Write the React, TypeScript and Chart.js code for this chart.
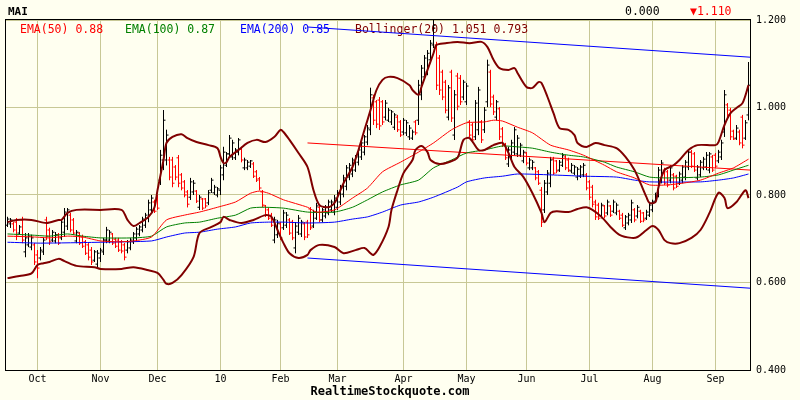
import React, { useEffect, useRef } from 'react';
import { Chart, registerables } from 'chart.js';

Chart.register(...registerables);

// ---- OHLC data (one entry per trading day) ----
const highs = [
  0.750,0.747,0.738,0.747,0.731,0.750,0.713,0.713,0.709,0.690,
  0.674,0.681,0.702,0.750,0.725,0.720,0.715,0.713,0.743,0.770,
  0.770,0.759,0.747,0.720,0.715,0.709,0.697,0.690,0.681,0.674,
  0.674,0.679,0.702,0.727,0.720,0.713,0.702,0.702,0.697,0.690,
  0.697,0.702,0.715,0.727,0.731,0.750,0.759,0.789,0.800,0.789,
  0.800,0.903,0.994,0.949,0.887,0.887,0.868,0.891,0.850,0.834,
  0.811,0.839,0.834,0.811,0.800,0.793,0.793,0.811,0.839,0.823,
  0.818,0.868,0.910,0.898,0.937,0.926,0.907,0.930,0.910,0.885,
  0.880,0.880,0.875,0.857,0.841,0.811,0.777,0.770,0.759,0.750,
  0.743,0.738,0.766,0.761,0.747,0.743,0.738,0.754,0.743,0.738,
  0.743,0.772,0.766,0.782,0.777,0.770,0.777,0.789,0.789,0.800,
  0.811,0.823,0.846,0.868,0.873,0.885,0.891,0.907,0.926,0.937,
  0.960,1.045,1.029,1.017,1.024,1.017,1.017,0.999,0.994,0.987,
  0.983,0.971,0.976,0.971,0.960,0.949,0.971,1.063,1.097,1.120,
  1.131,1.154,1.200,1.150,1.120,1.086,1.063,1.051,1.086,1.040,
  1.079,1.074,1.063,1.056,0.971,0.965,1.017,1.047,0.971,1.001,
  1.109,1.086,1.029,1.017,1.001,0.955,0.919,0.910,0.926,0.955,
  0.937,0.919,0.903,0.898,0.885,0.880,0.864,0.857,0.818,0.834,
  0.857,0.887,0.887,0.880,0.880,0.896,0.891,0.885,0.873,0.868,
  0.864,0.868,0.873,0.850,0.834,0.823,0.789,0.782,0.782,0.777,
  0.789,0.777,0.789,0.782,0.766,0.759,0.754,0.759,0.789,0.770,
  0.777,0.766,0.761,0.766,0.782,0.789,0.805,0.864,0.880,0.862,
  0.857,0.868,0.850,0.846,0.853,0.868,0.880,0.903,0.903,0.898,
  0.868,0.880,0.887,0.898,0.898,0.891,0.896,0.903,0.926,1.040,
  1.010,0.999,0.949,0.960,0.949,0.983,0.971,1.104,
];
const lows = [
  0.727,0.725,0.715,0.697,0.709,0.690,0.658,0.681,0.674,0.640,
  0.610,0.651,0.663,0.697,0.686,0.693,0.690,0.686,0.697,0.704,
  0.720,0.715,0.709,0.690,0.686,0.679,0.663,0.651,0.640,0.647,
  0.635,0.647,0.663,0.690,0.690,0.686,0.679,0.670,0.667,0.651,
  0.667,0.674,0.688,0.697,0.706,0.715,0.725,0.738,0.759,0.759,
  0.766,0.823,0.857,0.868,0.834,0.818,0.834,0.818,0.811,0.795,
  0.772,0.789,0.800,0.782,0.766,0.766,0.770,0.777,0.805,0.800,
  0.795,0.800,0.834,0.864,0.887,0.880,0.880,0.891,0.875,0.857,
  0.857,0.862,0.839,0.830,0.811,0.772,0.750,0.743,0.727,0.690,
  0.702,0.697,0.720,0.725,0.709,0.697,0.667,0.709,0.704,0.697,
  0.702,0.720,0.725,0.743,0.738,0.738,0.747,0.754,0.761,0.754,
  0.766,0.777,0.795,0.811,0.834,0.841,0.853,0.868,0.880,0.891,
  0.914,0.937,0.960,0.953,0.949,0.960,0.971,0.967,0.960,0.949,
  0.944,0.933,0.937,0.935,0.926,0.926,0.937,0.960,1.017,1.063,
  1.074,1.102,1.136,1.040,1.029,1.017,0.987,0.971,0.967,0.926,
  0.994,1.006,1.017,1.006,0.933,0.919,0.926,0.937,0.919,0.942,
  1.001,1.001,0.983,0.971,0.926,0.910,0.880,0.864,0.880,0.891,
  0.887,0.887,0.873,0.868,0.857,0.857,0.834,0.823,0.727,0.759,
  0.800,0.818,0.846,0.850,0.853,0.864,0.857,0.853,0.850,0.846,
  0.834,0.839,0.841,0.811,0.789,0.772,0.743,0.743,0.747,0.747,
  0.754,0.750,0.759,0.754,0.743,0.727,0.720,0.731,0.736,0.738,
  0.747,0.736,0.738,0.743,0.750,0.761,0.782,0.795,0.827,0.823,
  0.818,0.827,0.811,0.816,0.823,0.827,0.834,0.857,0.862,0.853,
  0.834,0.841,0.857,0.857,0.850,0.853,0.862,0.873,0.880,0.933,
  0.978,0.926,0.926,0.926,0.914,0.907,0.926,0.971,
];
const opens = [
  0.731,0.734,0.734,0.738,0.713,0.743,0.670,0.686,0.681,0.686,
  0.663,0.656,0.670,0.743,0.720,0.697,0.695,0.709,0.702,0.715,
  0.729,0.754,0.743,0.695,0.713,0.704,0.693,0.686,0.674,0.651,
  0.642,0.656,0.670,0.697,0.697,0.711,0.699,0.697,0.693,0.686,
  0.674,0.679,0.693,0.702,0.711,0.720,0.731,0.747,0.766,0.784,
  0.793,0.834,0.880,0.880,0.880,0.880,0.864,0.885,0.846,0.830,
  0.807,0.795,0.807,0.809,0.772,0.791,0.791,0.782,0.811,0.805,
  0.800,0.811,0.846,0.868,0.894,0.887,0.885,0.898,0.905,0.862,
  0.862,0.866,0.871,0.853,0.837,0.807,0.775,0.766,0.754,0.697,
  0.709,0.734,0.725,0.731,0.743,0.738,0.679,0.715,0.711,0.734,
  0.738,0.768,0.729,0.747,0.772,0.743,0.752,0.759,0.766,0.761,
  0.772,0.784,0.802,0.820,0.841,0.848,0.857,0.875,0.887,0.898,
  0.921,0.949,1.022,1.013,1.017,1.013,0.978,0.971,0.967,0.955,
  0.978,0.967,0.944,0.942,0.933,0.930,0.967,0.971,1.029,1.070,
  1.081,1.109,1.143,1.143,1.113,1.081,1.058,0.978,1.081,0.937,
  1.072,1.067,1.024,1.013,0.967,0.960,0.933,0.949,0.967,0.949,
  1.013,1.081,1.024,0.978,0.997,0.951,0.914,0.871,0.887,0.898,
  0.894,0.891,0.878,0.896,0.862,0.862,0.862,0.853,0.811,0.766,
  0.807,0.827,0.882,0.878,0.857,0.868,0.887,0.880,0.855,0.850,
  0.841,0.843,0.846,0.846,0.830,0.818,0.784,0.777,0.752,0.775,
  0.759,0.775,0.763,0.759,0.763,0.754,0.725,0.736,0.743,0.766,
  0.752,0.763,0.759,0.747,0.754,0.766,0.786,0.805,0.834,0.857,
  0.853,0.834,0.846,0.843,0.827,0.834,0.841,0.864,0.898,0.894,
  0.839,0.846,0.862,0.864,0.857,0.887,0.891,0.878,0.887,0.944,
  1.006,0.994,0.946,0.930,0.944,0.978,0.930,0.983,
];
const closes = [
  0.745,0.743,0.720,0.706,0.727,0.697,0.702,0.706,0.702,0.647,
  0.633,0.674,0.697,0.706,0.693,0.715,0.709,0.690,0.738,0.761,
  0.766,0.720,0.713,0.715,0.690,0.683,0.667,0.658,0.647,0.670,
  0.667,0.674,0.697,0.720,0.715,0.690,0.683,0.674,0.672,0.658,
  0.693,0.697,0.711,0.722,0.727,0.745,0.754,0.782,0.793,0.763,
  0.770,0.891,0.971,0.937,0.841,0.827,0.841,0.827,0.816,0.800,
  0.779,0.830,0.827,0.786,0.795,0.770,0.775,0.805,0.834,0.818,
  0.814,0.862,0.898,0.894,0.930,0.919,0.903,0.926,0.880,0.880,
  0.875,0.878,0.843,0.834,0.816,0.777,0.754,0.747,0.731,0.743,
  0.736,0.702,0.759,0.754,0.713,0.702,0.729,0.747,0.738,0.704,
  0.709,0.725,0.761,0.775,0.743,0.766,0.772,0.784,0.784,0.793,
  0.805,0.816,0.839,0.862,0.868,0.880,0.887,0.903,0.919,0.933,
  0.953,1.029,0.971,0.962,0.958,0.967,1.010,0.994,0.990,0.983,
  0.949,0.937,0.971,0.965,0.953,0.944,0.942,1.051,1.090,1.113,
  1.124,1.147,1.188,1.051,1.040,1.024,0.994,1.045,0.976,1.029,
  1.003,1.013,1.058,1.049,0.937,0.926,1.010,1.040,0.926,0.994,
  1.097,1.008,0.990,1.013,0.933,0.914,0.885,0.903,0.919,0.949,
  0.930,0.914,0.898,0.873,0.880,0.875,0.839,0.827,0.738,0.827,
  0.850,0.880,0.850,0.855,0.875,0.891,0.862,0.857,0.868,0.864,
  0.859,0.864,0.868,0.816,0.795,0.779,0.750,0.747,0.777,0.752,
  0.784,0.754,0.784,0.777,0.747,0.731,0.750,0.754,0.782,0.743,
  0.772,0.740,0.743,0.761,0.777,0.784,0.800,0.857,0.873,0.827,
  0.823,0.862,0.816,0.820,0.848,0.864,0.875,0.898,0.866,0.857,
  0.864,0.875,0.882,0.891,0.894,0.857,0.866,0.898,0.919,1.029,
  0.983,0.933,0.928,0.953,0.919,0.914,0.965,1.051,
];

// ---- indicator lines: [bar index, value] ----
const ema50: [number, number][] = [
  [0,0.706],[9,0.704],[14,0.702],[20,0.706],[25,0.704],[31,0.695],[37,0.693],[42,0.695],
  [48,0.704],[53,0.743],[59,0.754],[64,0.761],[70,0.772],[76,0.784],[81,0.804],[84,0.809],
  [87,0.804],[92,0.789],[100,0.772],[103,0.761],[109,0.766],[115,0.793],[120,0.816],[125,0.853],
  [131,0.875],[137,0.898],[142,0.919],[148,0.949],[153,0.965],[159,0.967],[162,0.971],[165,0.969],
  [170,0.955],[175,0.942],[181,0.914],[187,0.903],[192,0.891],[199,0.868],[203,0.853],[209,0.839],
  [214,0.823],[220,0.823],[225,0.827],[231,0.834],[237,0.850],[242,0.862],[247,0.882],
];
const ema100: [number, number][] = [
  [0,0.711],[9,0.708],[14,0.706],[20,0.711],[25,0.706],[31,0.702],[42,0.702],[48,0.706],
  [53,0.727],[59,0.736],[64,0.738],[70,0.747],[76,0.754],[81,0.770],[85,0.772],[92,0.770],
  [100,0.761],[109,0.761],[115,0.772],[120,0.789],[125,0.807],[131,0.823],[137,0.834],[142,0.862],
  [148,0.880],[153,0.896],[159,0.903],[165,0.912],[170,0.910],[175,0.907],[181,0.898],[187,0.891],
  [192,0.887],[199,0.875],[203,0.864],[209,0.853],[214,0.841],[220,0.839],[231,0.841],[237,0.846],
  [242,0.857],[247,0.868],
];
const ema200: [number, number][] = [
  [0,0.692],[11,0.690],[31,0.692],[48,0.695],[53,0.704],[59,0.713],[64,0.715],[70,0.722],
  [76,0.727],[81,0.736],[87,0.738],[92,0.738],[100,0.736],[109,0.738],[115,0.745],[120,0.750],
  [125,0.761],[131,0.777],[137,0.784],[142,0.795],[150,0.818],[153,0.830],[159,0.839],[165,0.843],
  [170,0.848],[181,0.846],[192,0.843],[203,0.841],[209,0.834],[214,0.830],[231,0.830],[237,0.834],
  [242,0.839],[247,0.848],
];
const bbUpper: [number, number][] = [
  [0,0.738],[3,0.743],[8,0.743],[13,0.736],[17,0.743],[18,0.743],[20,0.759],[23,0.766],
  [31,0.766],[38,0.766],[40,0.743],[42,0.729],[44,0.736],[47,0.750],[49,0.772],[50,0.811],
  [52,0.880],[53,0.919],[55,0.933],[58,0.939],[60,0.930],[63,0.921],[67,0.914],[70,0.907],
  [71,0.887],[72,0.873],[73,0.875],[74,0.887],[77,0.903],[80,0.919],[83,0.926],[86,0.921],
  [89,0.933],[91,0.949],[92,0.944],[94,0.926],[97,0.896],[100,0.864],[102,0.811],[104,0.777],
  [107,0.772],[109,0.782],[110,0.795],[112,0.827],[115,0.864],[117,0.903],[119,0.949],[121,0.994],
  [123,1.040],[125,1.063],[127,1.070],[130,1.067],[134,1.051],[135,1.040],[137,1.029],[138,1.047],
  [140,1.086],[142,1.124],[143,1.143],[146,1.147],[150,1.150],[154,1.147],[158,1.150],[160,1.138],
  [162,1.109],[164,1.090],[167,1.086],[169,1.090],[170,1.079],[173,1.047],[175,1.045],[177,1.058],
  [178,1.056],[180,1.024],[182,0.987],[184,0.953],[187,0.949],[189,0.937],[190,0.919],[193,0.910],
  [196,0.919],[199,0.914],[203,0.907],[206,0.887],[209,0.857],[211,0.827],[213,0.795],[214,0.782],
  [216,0.784],[217,0.818],[219,0.857],[222,0.868],[224,0.880],[227,0.903],[230,0.914],[236,0.914],
  [237,0.921],[239,0.960],[241,0.987],[243,0.999],[245,1.010],[247,1.051],
];
const bbLower: [number, number][] = [
  [0,0.610],[4,0.615],[8,0.621],[10,0.640],[12,0.644],[14,0.647],[17,0.654],[19,0.649],
  [23,0.638],[29,0.635],[31,0.631],[38,0.631],[42,0.635],[47,0.628],[50,0.622],[52,0.606],
  [53,0.597],[55,0.599],[58,0.617],[62,0.658],[64,0.713],[68,0.727],[71,0.738],[72,0.750],
  [74,0.743],[78,0.736],[82,0.743],[86,0.754],[88,0.750],[90,0.720],[92,0.690],[94,0.667],
  [97,0.656],[100,0.663],[101,0.674],[104,0.686],[109,0.681],[112,0.667],[116,0.674],[119,0.679],
  [121,0.667],[122,0.663],[124,0.681],[127,0.727],[128,0.766],[130,0.811],[132,0.850],[135,0.880],
  [136,0.903],[138,0.912],[140,0.898],[141,0.880],[144,0.871],[147,0.875],[150,0.885],[152,0.926],
  [154,0.930],[157,0.903],[159,0.903],[162,0.914],[165,0.919],[167,0.896],[169,0.864],[172,0.841],
  [175,0.804],[178,0.759],[179,0.738],[181,0.759],[183,0.763],[187,0.761],[190,0.768],[193,0.772],
  [195,0.766],[198,0.750],[201,0.727],[204,0.709],[208,0.702],[210,0.704],[213,0.720],[215,0.729],
  [217,0.720],[219,0.697],[221,0.690],[224,0.690],[228,0.702],[231,0.720],[234,0.759],[237,0.805],
  [239,0.793],[240,0.770],[243,0.784],[246,0.811],[247,0.793],
];
const trendTop: [number, number][] = [[100,1.184],[247.5,1.115]];
const trendMid: [number, number][] = [[100,0.919],[247.5,0.857]];
const trendBottom: [number, number][] = [[100,0.656],[247.5,0.587]];

// ---- axes & text ----
const monthTicks = [10,31,50,71,91,110,132,153,173,194,215,236];
const monthLabels = ['Oct','Nov','Dec','10','Feb','Mar','Apr','May','Jun','Jul','Aug','Sep'];
const yTicks = [0.4,0.6,0.8,1.0,1.2];
const symbol = 'MAI';
const headerValue = '0.000';
const headerChange = '\u25BC1.110';
const legendLabels = ['EMA(50) 0.88','EMA(100) 0.87','EMA(200) 0.85','Bollinger(20) 1.051 0.793'];
const footerText = 'RealtimeStockquote.com';

const BG = '#fffff0';
const GRID = '#c8c896';
const MONO = '"DejaVu Sans Mono", "Liberation Mono", monospace';
const legendColors = ['#ff0000','#008000','#0000ff','#800000'];
const legendX = [20,125,240,355];

function toPts(arr: [number, number][]) {
  return arr.map(([x, y]) => ({ x, y }));
}

function ohlcPath(up: boolean) {
  const pts: { x: number; y: number | null }[] = [];
  for (let i = 0; i < closes.length; i++) {
    const isUp = closes[i] >= opens[i];
    if (isUp !== up) continue;
    pts.push(
      { x: i - 0.67, y: opens[i] },
      { x: i, y: opens[i] },
      { x: i, y: highs[i] },
      { x: i, y: lows[i] },
      { x: i, y: closes[i] },
      { x: i + 0.67, y: closes[i] },
      { x: i + 0.7, y: null },
    );
  }
  return pts;
}

const decorPlugin = {
  id: 'decor',
  beforeDraw(chart: any) {
    const { ctx, width, height } = chart;
    ctx.save();
    ctx.fillStyle = BG;
    ctx.fillRect(0, 0, width, height);
    ctx.restore();
  },
  beforeDatasetsDraw(chart: any) {
    const { ctx, chartArea } = chart;
    ctx.save();
    ctx.font = '11.5px ' + MONO;
    ctx.textBaseline = 'middle';
    ctx.textAlign = 'left';
    legendLabels.forEach((t, k) => {
      ctx.fillStyle = legendColors[k];
      ctx.fillText(t, legendX[k], chartArea.top + 10);
    });
    ctx.restore();
  },
  afterDraw(chart: any) {
    const { ctx, chartArea, width } = chart;
    ctx.save();
    ctx.strokeStyle = '#000';
    ctx.lineWidth = 1;
    ctx.strokeRect(chartArea.left - 0.5, chartArea.top - 0.5, chartArea.right - chartArea.left + 1, chartArea.bottom - chartArea.top + 1);
    ctx.textBaseline = 'middle';
    ctx.font = 'bold 11px ' + MONO;
    ctx.fillStyle = '#000';
    ctx.textAlign = 'left';
    ctx.fillText(symbol, 8, 12);
    ctx.font = '11.5px ' + MONO;
    ctx.fillText(headerValue, 625, 12);
    ctx.fillStyle = '#ff0000';
    ctx.fillText(headerChange, 690, 12);
    ctx.font = 'bold 12px ' + MONO;
    ctx.fillStyle = '#000';
    ctx.textAlign = 'center';
    ctx.fillText(footerText, 390, 392);
    ctx.restore();
  },
};

export default function App() {
  const ref = useRef<HTMLCanvasElement | null>(null);
  useEffect(() => {
    if (!ref.current) return;
    const line = (data: any, color: string, width: number, order: number, tension = 0) => ({
      type: 'line',
      data,
      borderColor: color,
      backgroundColor: color,
      borderWidth: width,
      pointRadius: 0,
      pointHoverRadius: 0,
      tension,
      fill: false,
      spanGaps: false,
      order,
      borderJoinStyle: 'miter',
      borderCapStyle: 'butt',
    });
    const chart = new Chart(ref.current, {
      type: 'line',
      data: {
        datasets: [
          line(toPts(bbUpper), '#800000', 2, 1, 0.3),
          line(toPts(bbLower), '#800000', 2, 1, 0.3),
          line(toPts(ema50), '#ff0000', 1, 2, 0.2),
          line(toPts(ema100), '#008000', 1, 2, 0.2),
          line(toPts(ema200), '#0000ff', 1, 2, 0.2),
          line(toPts(trendTop), '#0000ff', 1, 3),
          line(toPts(trendMid), '#ff0000', 1, 3),
          line(toPts(trendBottom), '#0000ff', 1, 3),
          line(ohlcPath(true), '#000000', 1, 4),
          line(ohlcPath(false), '#ff0000', 1, 4),
        ] as any,
      },
      options: {
        responsive: false,
        animation: false,
        devicePixelRatio: 1,
        events: [],
        layout: { padding: { left: 6, top: 20, right: 0, bottom: 0 } },
        plugins: { legend: { display: false }, tooltip: { enabled: false }, title: { display: false } },
        scales: {
          x: {
            type: 'linear',
            min: -0.5,
            max: 247.5,
            afterBuildTicks: (s: any) => { s.ticks = monthTicks.map((v) => ({ value: v })); },
            afterFit: (s: any) => { s.height = 30; },
            ticks: {
              autoSkip: false,
              maxRotation: 0,
              padding: 3,
              color: '#000',
              font: { family: MONO, size: 10 },
              callback: (_v: any, i: number) => monthLabels[i],
            },
            grid: { color: GRID, drawTicks: false, lineWidth: 1 },
            border: { display: false },
          },
          y: {
            type: 'linear',
            position: 'right',
            min: 0.4,
            max: 1.2,
            afterBuildTicks: (s: any) => { s.ticks = yTicks.map((v) => ({ value: v })); },
            afterFit: (s: any) => { s.width = 50; },
            ticks: {
              padding: 6,
              color: '#000',
              font: { family: MONO, size: 10 },
              callback: (v: any) => Number(v).toFixed(3),
            },
            grid: { color: GRID, drawTicks: false, lineWidth: 1 },
            border: { display: false },
          },
        },
      } as any,
      plugins: [decorPlugin],
    });
    return () => chart.destroy();
  }, []);
  return (
    <div style={{ position: 'fixed', left: 0, top: 0, width: 800, height: 400, background: BG }}>
      <canvas ref={ref} width={800} height={400} style={{ display: 'block', width: 800, height: 400 }} />
    </div>
  );
}
